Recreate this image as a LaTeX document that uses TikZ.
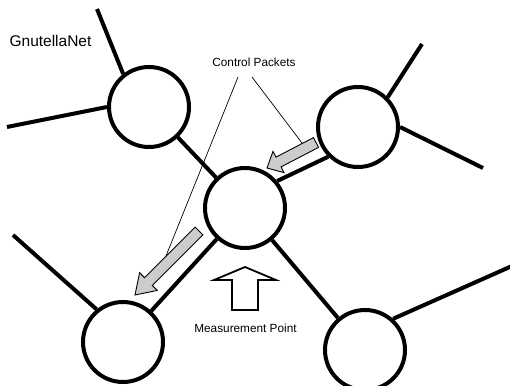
\documentclass[tikz,border=0pt]{standalone}
\usepackage{fontspec}
\setmainfont{Liberation Sans}
\usetikzlibrary{calc}
\tikzset{
  peer/.style={circle,draw,line width=4pt,minimum size=80pt,inner sep=0pt},
  link/.style={line width=4pt},
  pkstyle/.style={draw=black,line width=0.9pt,fill=gray!40,line join=miter},
  pointer/.style={line width=0.7pt},
  lbl/.style={font=\fontsize{11.8}{14}\selectfont,anchor=base,inner sep=0pt},
}
\newcommand\pkarrow[4]{%
  \coordinate (pkN) at ($(#2)!#3!(#1)$);
  \draw[pkstyle] ($(#1)!5.5pt!90:(#2)$) -- ($(pkN)!5.5pt!90:(#2)$)
     -- ($(pkN)!#4!90:(#2)$) -- (#2) -- ($(pkN)!#4!-90:(#2)$)
     -- ($(pkN)!5.5pt!-90:(#2)$) -- ($(#1)!5.5pt!-90:(#2)$) -- cycle;
}
\begin{document}
\begin{tikzpicture}[x=1pt,y=-1pt]
\useasboundingbox (0,0) rectangle (510,385);
% peers
\node[peer] (A) at (149,107) {};
\node[peer] (B) at (358,127) {};
\node[peer] (C) at (245,208) {};
\node[peer] (D) at (123,342) {};
\node[peer] (E) at (365,350) {};
% outer ends
\coordinate (a1) at (97,9);
\coordinate (a2) at (7,127);
\coordinate (b1) at (422,44);
\coordinate (b2) at (483,168);
\coordinate (d1) at (13,235);
\coordinate (e1) at (512,266);
% links
\draw[link] (A.128) -- (a1);
\draw[link] (A.180) -- (a2);
\draw[link] (B.45) -- (b1);
\draw[link] (B.0) -- (b2);
\draw[link] (D.129) -- (d1);
\draw[link] (E.48) -- (e1);
\draw[link] (A) -- (C);
\draw[link] (B.225) -- (C.40);
\draw[link] (D) -- (C);
\draw[link] (C) -- (E);
% packet arrows
\coordinate (pkTRt) at (316,142.5);
\coordinate (pkTRh) at (267,168);
\coordinate (pkBLt) at (199,231);
\coordinate (pkBLh) at (135,295);
\pkarrow{pkTRt}{pkTRh}{13pt}{12pt}
\pkarrow{pkBLt}{pkBLh}{19pt}{12.5pt}
% labels
\node[lbl,font=\fontsize{15.5}{18}\selectfont] (gn) at (50.5,47) {GnutellaNet};
\node[lbl] (cp) at (254,67) {Control Packets};
\node[lbl] (mp) at (245.5,332) {Measurement Point};
% pointers
\coordinate (cp1) at (238,77);
\coordinate (cp2) at (252,77);
\coordinate (pe1) at (166,256);
\coordinate (pe2) at (302,143);
\draw[pointer] (cp1) -- (pe1);
\draw[pointer] (cp2) -- (pe2);
% measurement point arrow
\draw[line width=1.8pt,line join=miter] (245,267) -- (276,280) -- (258,280) -- (258,310)
  -- (232,310) -- (232,280) -- (214,280) -- cycle;
\end{tikzpicture}
\end{document}
